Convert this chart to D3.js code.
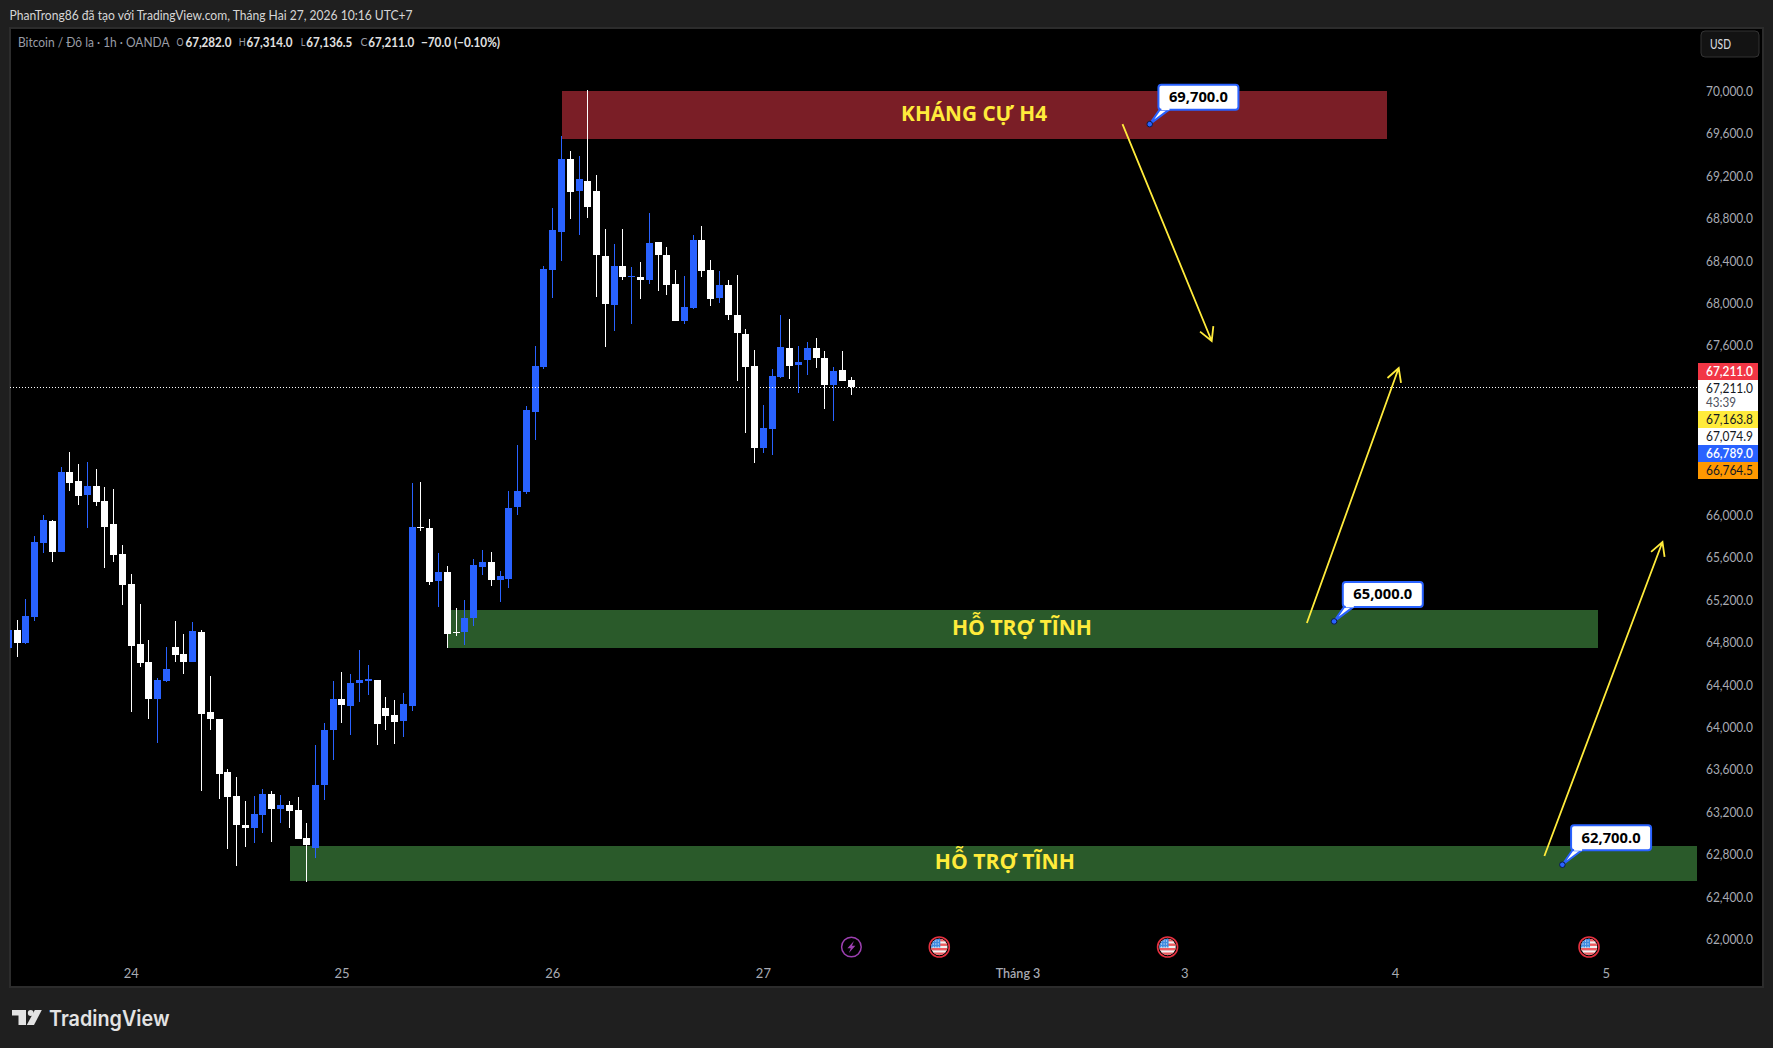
<!DOCTYPE html>
<html lang="vi">
<head>
<meta charset="utf-8">
<script src="https://cdn.jsdelivr.net/npm/d3@7/dist/d3.min.js"></script>
<style>
html,body{margin:0;padding:0;background:#1f1f1f;overflow:hidden}
svg{display:block}
text{font-family:Lato,"Noto Sans",sans-serif}
</style>
</head>
<body>
<svg id="chart" width="1773" height="1048"></svg>
<script>
// ---------- data ----------
const opens=[64749,64919,64796,65042,65741,65949,65656,66412,66327,66195,66280,66138,65921,65637,65353,64786,64616,64267,64437,64758,64692,64616,64900,64144,64077,63577,63350,63076,63047,63170,63369,63227,63265,63217,62953,62858,63454,63974,64267,64200,64418,64437,64446,64181,64115,64059,64200,65892,65883,65382,65467,64900,64900,65032,65514,65561,65391,65401,66081,66223,66979,67405,68321,68681,69371,69068,69163,69068,68454,67991,68359,68255,68255,68227,68586,68463,68189,67839,67962,68605,68321,68057,68180,67896,67716,67414,66639,66819,67310,67584,67424,67471,67584,67490,67234,67376,67282];
const highs=[64919,65013,65212,65807,66006,65958,66459,66601,66488,66507,66440,66270,66251,65722,65448,65164,64824,64465,64758,65004,64881,64994,64919,64484,64077,63605,63529,63302,63350,63416,63397,63359,63302,63340,63094,63832,64040,64437,64522,64503,64730,64588,64446,64285,64257,64323,66308,66318,65968,65646,65524,65127,65202,65590,65675,65656,65476,66232,66667,67036,67603,68359,68907,69588,69446,69399,70023,69219,68709,68567,68709,68350,68397,68860,68586,68539,68321,68265,68652,68737,68416,68312,68227,68274,67764,67565,67045,67386,67896,67858,67603,67641,67679,67556,67405,67556,67314];
const lows=[64749,64663,64786,65004,65646,65561,65656,66232,66100,65883,66091,65505,65561,65155,64144,64569,64077,63851,64427,64616,64503,64616,63397,63974,63321,62849,62688,62868,62905,63000,62915,63094,63047,62943,62537,62764,63312,63690,64040,63926,64238,64304,63832,63974,63841,63907,64153,65854,65344,65136,64749,64862,64777,64956,65439,65335,65183,65316,66006,66204,66715,67386,68057,68406,68803,68652,68813,68066,67594,67745,68227,67811,68047,68189,68123,68085,67839,67811,67953,68255,67981,68010,67849,67272,66781,66497,66592,66573,67301,67291,67159,67329,67395,67008,66894,67272,67136.5];
const closes=[64919,64796,65051,65750,65958,65656,66412,66308,66185,66280,66129,65892,65628,65344,64767,64607,64267,64446,64550,64682,64616,64909,64125,64077,63558,63340,63076,63047,63180,63369,63227,63265,63208,62943,62887,63454,63974,64267,64210,64418,64446,64456,64030,64106,64049,64219,65892,65883,65372,65467,64881,64890,65032,65533,65561,65391,65429,66072,66232,66998,67414,68331,68699,69371,69059,69182,68917,68463,68000,68359,68255,68265,68227,68577,68463,68180,67839,67972,68605,68312,68047,68180,67896,67726,67405,66639,66828,67320,67594,67414,67452,67584,67490,67234,67367,67272,67211];

const priceTicks=[70000,69600,69200,68800,68400,68000,67600,66000,65600,65200,64800,64400,64000,63600,63200,62800,62400,62000];
const timeBars=[14,38,62,86,115,134,158,182];
const timeLabels=["24","25","26","27","Tháng 3","3","4","5"];

const zoneStartBars=[63.06,50.08,32.08];
const zoneEndBars=[157.03,181.06,197];
const zoneTops=[70013,65108,62877];
const zoneBottoms=[69559,64748,62546];
const zoneColors=["#7a1e26","#2a5a2a","#2a5a2a"];
const zoneLabels=["KHÁNG CỰ H4","HỖ TRỢ TĨNH","HỖ TRỢ TĨNH"];
const zoneLabelBars=[110,115.45,113.5];
const zoneLabelPrices=[69805,64947,62736];
const zoneLabelWidths=[146,140,140];

const arrowStartBars=[126.9,147.9,174.95];
const arrowStartPrices=[69701,64985,62783];
const arrowEndBars=[137.06,158.36,188.4];
const arrowEndPrices=[67650,67395,65750];

const calloutBars=[130,151,177];
const calloutPrices=[69700,65000,62700];

const priceBadges=["67,211.0","67,211.0","67,163.8","67,074.9","66,789.0","66,764.5"];
const badgeFills=["#f23645","#ffffff","#ffeb3b","#ffffff","#2962ff","#ff9800"];
const badgeInk=["#ffffff","#131722","#131722","#131722","#ffffff","#131722"];
const badgeHeights=[17,31,17,17,17,17];
const countdown="43:39";

const eventBolt=[96];
const eventFlags=[106,132,180];

const headerText="PhanTrong86 đã tạo với TradingView.com, Tháng Hai 27, 2026 10:16 UTC+7";
const symbolText="Bitcoin / Đô la · 1h · OANDA";
const ohlcLetters=["O","H","L","C"];
const ohlcValues=["67,282.0","67,314.0","67,136.5","67,211.0"];
const changeText="−70.0 (−0.10%)";
const lastClose=67211;

// ---------- layout ----------
const UP="#2962ff",DOWN="#ffffff",YEL="#ffeb3b",AXIS="#a8abb3";
const plot={l:10,t:28,r:1697,b:986};
const x=d3.scaleLinear().domain([0,96]).range([8.32,851.2]);
const y=d3.scaleLinear().domain([62000,70000]).range([938.8,92.4]);
const yLabels=d3.scaleLinear().domain([62000,70000]).range([938.6,90.4]);
const money=d3.format(",.1f");
const svg=d3.select("#chart");
svg.append("rect").attr("width",1773).attr("height",1048).attr("fill","#1f1f1f");
svg.append("rect").attr("x",10).attr("y",28).attr("width",1753).attr("height",959)
  .attr("fill","#000").attr("stroke","#2c2c2c").attr("stroke-width",2);
const defs=svg.append("defs");
defs.append("clipPath").attr("id","plotClip").append("rect")
  .attr("x",plot.l).attr("y",plot.t).attr("width",plot.r-plot.l).attr("height",plot.b-plot.t);
const g=svg.append("g").attr("clip-path","url(#plotClip)");

// zones
g.selectAll("rect.zone").data(zoneTops).join("rect").attr("class","zone")
  .attr("x",(d,i)=>Math.round(x(zoneStartBars[i])))
  .attr("width",(d,i)=>Math.round(x(zoneEndBars[i]))-Math.round(x(zoneStartBars[i])))
  .attr("y",d=>Math.round(y(d)))
  .attr("height",(d,i)=>Math.round(y(zoneBottoms[i]))-Math.round(y(d)))
  .attr("fill",(d,i)=>zoneColors[i]);

// candles
const idx=d3.range(opens.length);
const col=i=>closes[i]>=opens[i]?UP:DOWN;
g.selectAll("rect.wick").data(idx).join("rect").attr("class","wick")
  .attr("x",i=>Math.floor(x(i))).attr("width",1)
  .attr("y",i=>Math.round(y(highs[i])))
  .attr("height",i=>Math.max(1,Math.round(y(lows[i]))-Math.round(y(highs[i]))))
  .attr("fill",col);
g.selectAll("rect.body").data(idx).join("rect").attr("class","body")
  .attr("x",i=>Math.floor(x(i))-3).attr("width",7)
  .attr("y",i=>Math.round(y(Math.max(opens[i],closes[i]))))
  .attr("height",i=>Math.max(1,Math.round(y(Math.min(opens[i],closes[i])))-Math.round(y(Math.max(opens[i],closes[i])))))
  .attr("fill",col);

// price line
g.append("line").attr("x1",plot.l).attr("x2",plot.r)
  .attr("y1",Math.round(y(lastClose))+0.5).attr("y2",Math.round(y(lastClose))+0.5)
  .attr("stroke","#fff").attr("stroke-width",1).attr("stroke-dasharray","1,2");

// zone labels
g.selectAll("text.zl").data(zoneLabels).join("text").attr("class","zl")
  .attr("x",(d,i)=>x(zoneLabelBars[i])).attr("y",(d,i)=>y(zoneLabelPrices[i]))
  .attr("text-anchor","middle").attr("dominant-baseline","central")
  .attr("textLength",(d,i)=>zoneLabelWidths[i]).attr("lengthAdjust","spacingAndGlyphs")
  .style("font-family",'"Open Sans",sans-serif').style("font-weight",700).style("font-size","21px")
  .attr("fill",YEL).text(d=>d);

// arrows
arrowStartBars.forEach((b,i)=>{
  const x1=x(b),y1=y(arrowStartPrices[i]),x2=x(arrowEndBars[i]),y2=y(arrowEndPrices[i]);
  const a=Math.atan2(y2-y1,x2-x1),L=15,sp=0.5;
  const p=d3.path();
  p.moveTo(x1,y1);p.lineTo(x2,y2);
  p.moveTo(x2-L*Math.cos(a-sp),y2-L*Math.sin(a-sp));p.lineTo(x2,y2);
  p.lineTo(x2-L*Math.cos(a+sp),y2-L*Math.sin(a+sp));
  g.append("path").attr("d",p.toString()).attr("fill","none").attr("stroke",YEL).attr("stroke-width",1.8);
});

// callouts
calloutBars.forEach((b,i)=>{
  const cx=x(b),cy=y(calloutPrices[i]);
  const bx=cx+8.7,by=cy-39.5,bw=80,bh=25;
  const c=g.append("g");
  c.append("path").attr("d",`M${cx},${cy}L${bx+2},${by+bh-1}L${bx+12},${by+bh-1}Z`)
    .attr("fill","#fff").attr("stroke",UP).attr("stroke-width",2).attr("stroke-linejoin","round");
  c.append("rect").attr("x",bx).attr("y",by).attr("width",bw).attr("height",bh).attr("rx",3)
    .attr("fill","#fff").attr("stroke",UP).attr("stroke-width",2);
  c.append("rect").attr("x",bx+3).attr("y",by+bh-3).attr("width",8).attr("height",3.5).attr("fill","#fff");
  c.append("circle").attr("cx",cx).attr("cy",cy).attr("r",2.8)
    .attr("fill",UP).attr("stroke","#0b1a44").attr("stroke-width",1);
  c.append("text").attr("x",bx+bw/2).attr("y",by+bh/2).attr("text-anchor","middle").attr("dominant-baseline","central")
    .attr("textLength",59).attr("lengthAdjust","spacingAndGlyphs")
    .style("font-family",'"Open Sans",sans-serif').style("font-weight",700).style("font-size","13.5px")
    .attr("fill","#000").text(money(calloutPrices[i]));
});

// event icons
const evY=947;
eventBolt.forEach(b=>{
  const cx=x(b)+0.2,e=svg.append("g").attr("transform",`translate(${cx},${evY})`);
  e.append("circle").attr("r",9.8).attr("fill","#000").attr("stroke","#9c3fb0").attr("stroke-width",1.5);
  e.append("path").attr("d","M2.5,-6L-4,1.2H-0.6L-2.5,6L4,-1.2H0.6Z").attr("fill","#9c3fb0");
});
eventFlags.forEach((b,k)=>{
  const cx=x(b)+0.3,e=svg.append("g").attr("transform",`translate(${cx},${evY})`);
  const id="flag"+k;
  defs.append("clipPath").attr("id",id).append("circle").attr("r",8.2);
  e.append("circle").attr("r",10).attr("fill","#000").attr("stroke","#e5303f").attr("stroke-width",1.6);
  const f=e.append("g").attr("clip-path",`url(#${id})`);
  f.append("rect").attr("x",-9).attr("y",-9).attr("width",18).attr("height",18).attr("fill","#f1f1f1");
  [-8,-3.5,1,5.5].forEach(s=>f.append("rect").attr("x",-9).attr("y",s).attr("width",18).attr("height",2.4).attr("fill","#ec5a5f"));
  f.append("rect").attr("x",-9).attr("y",-9).attr("width",10).attr("height",9.5).attr("fill","#3f8be0");
  [-6.5,-3.5,-0.5].forEach(py=>[-6.5,-4,-1.5].forEach(px=>f.append("rect").attr("x",px).attr("y",py).attr("width",1).attr("height",1).attr("fill","#fff")));
});

// axes
const priceAxis=d3.axisRight(yLabels).tickValues(priceTicks).tickSize(0).tickPadding(0).tickFormat(money);
const pa=svg.append("g").attr("transform","translate(1753,0)").call(priceAxis);
pa.select(".domain").remove();
pa.selectAll("text").attr("x",0).attr("dy",null).attr("dominant-baseline","central").attr("text-anchor","end")
  .attr("textLength",47).attr("lengthAdjust","spacingAndGlyphs")
  .attr("fill",AXIS).style("font-family","Lato,sans-serif").style("font-size","13px");

const tAxis=d3.axisBottom(d3.scaleOrdinal().domain(timeBars).range(timeBars.map(x)))
  .tickSize(0).tickPadding(0).tickFormat((d,i)=>timeLabels[i]);
const ta=svg.append("g").attr("transform","translate(-0.5,973)").call(tAxis);
ta.select(".domain").remove();
ta.selectAll("text").attr("y",0).attr("dy",null).attr("dominant-baseline","central").attr("text-anchor","middle")
  .attr("fill",AXIS).style("font-family","Lato,sans-serif").style("font-size",(d,i)=>timeLabels[i].length>2?"12.5px":"13px")
  .style("font-weight",(d,i)=>timeLabels[i].length>2?600:400);

// badges
let by=363;
priceBadges.forEach((t,i)=>{
  const h=badgeHeights[i];
  svg.append("rect").attr("x",1698).attr("y",by).attr("width",60).attr("height",h).attr("fill",badgeFills[i]);
  svg.append("text").attr("x",1706).attr("y",by+8.4).attr("dominant-baseline","central")
    .attr("textLength",47).attr("lengthAdjust","spacingAndGlyphs")
    .attr("fill",badgeInk[i]).style("font-size","13px").style("font-weight",i==0||i==4?600:400).text(t);
  if(h>17) svg.append("text").attr("x",1706).attr("y",by+22.4).attr("dominant-baseline","central")
    .attr("textLength",30).attr("lengthAdjust","spacingAndGlyphs")
    .attr("fill","#50535e").style("font-size","13px").text(countdown);
  by+=h;
});

// USD button
svg.append("rect").attr("x",1701).attr("y",31).attr("width",58).attr("height",26).attr("rx",4)
  .attr("fill","#131313").attr("stroke","#333").attr("stroke-width",1);
svg.append("text").attr("x",1710).attr("y",44.3).attr("dominant-baseline","central")
  .attr("textLength",21).attr("lengthAdjust","spacingAndGlyphs")
  .attr("fill","#d4d6dc").style("font-size","13px").style("font-weight",500).text("USD");

// header & legend
svg.append("text").attr("x",9.6).attr("y",15.3).attr("dominant-baseline","central")
  .attr("textLength",403).attr("lengthAdjust","spacingAndGlyphs")
  .attr("fill","#d6d6d6").style("font-size","13px").text(headerText);
svg.append("text").attr("x",18).attr("y",41.8).attr("dominant-baseline","central")
  .attr("textLength",151.5).attr("lengthAdjust","spacingAndGlyphs")
  .attr("fill","#9a9da6").style("font-size","13px").text(symbolText);
const letterX=[176.6,238.8,300.8,360.5],letterW=[7,7,4.6,7],valueX=[185.4,246.5,306.2,368.2];
ohlcLetters.forEach((l,i)=>{
  svg.append("text").attr("x",letterX[i]).attr("y",41.8).attr("dominant-baseline","central")
    .attr("textLength",letterW[i]).attr("lengthAdjust","spacingAndGlyphs")
    .attr("fill","#9a9da6").style("font-size","12px").text(l);
  svg.append("text").attr("x",valueX[i]).attr("y",41.8).attr("dominant-baseline","central")
    .attr("textLength",46).attr("lengthAdjust","spacingAndGlyphs")
    .attr("fill","#e2e2e2").style("font-size","13px").style("font-weight",700).text(ohlcValues[i]);
});
svg.append("text").attr("x",421).attr("y",41.8).attr("dominant-baseline","central")
  .attr("textLength",79).attr("lengthAdjust","spacingAndGlyphs")
  .attr("fill","#e2e2e2").style("font-size","13px").style("font-weight",700).text(changeText);

// logo
const logo=svg.append("g").attr("fill","#e3e3e3");
logo.append("path").attr("d","M12,1010H26V1025H18.5V1015.5H12Z");
logo.append("circle").attr("cx",30.7).attr("cy",1013).attr("r",2.9);
logo.append("path").attr("d","M34.8,1010H41.8L34,1025H26.8Z");
logo.append("text").attr("x",49).attr("y",1018).attr("dominant-baseline","central")
  .attr("textLength",120.5).attr("lengthAdjust","spacingAndGlyphs")
  .style("font-family",'Inter,Roboto,sans-serif').style("font-weight",600).style("font-size","21px").text("TradingView");
</script>
</body>
</html>
